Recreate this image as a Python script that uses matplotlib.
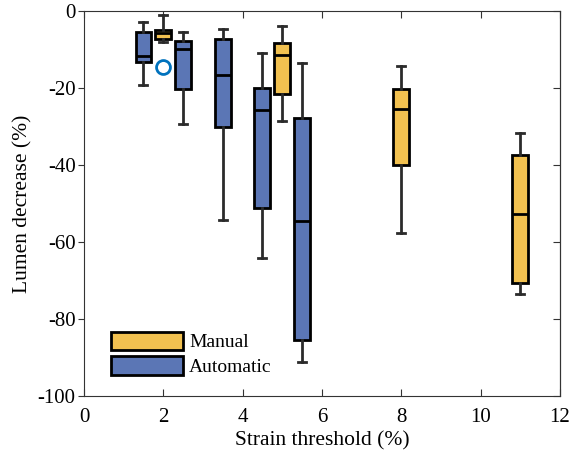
import matplotlib.pyplot as plt
from matplotlib.patches import Patch

plt.rcParams['font.family'] = ['Liberation Serif', 'DejaVu Serif']
plt.rcParams['axes.unicode_minus'] = False

# box positions (strain threshold, %) and group
positions = [1.5, 2.0, 2.5, 3.5, 4.5, 5.0, 5.5, 8.0, 11.0]
groups = ['auto', 'manual', 'auto', 'auto', 'auto', 'manual', 'auto', 'manual', 'manual']

# five-number summaries (lumen decrease, %)
whisker_hi = [-2.8, -1.0, -5.6, -4.6, -11.0, -3.9, -13.6, -14.3, -31.8]
q3 = [-5.4, -4.9, -7.9, -7.4, -20.1, -8.4, -27.9, -20.3, -37.5]
medians = [-11.7, -5.8, -9.8, -16.6, -25.7, -11.5, -54.5, -25.5, -52.8]
q1 = [-13.3, -7.4, -20.3, -30.2, -51.1, -21.6, -85.6, -40.0, -70.6]
whisker_lo = [-19.2, -8.2, -29.4, -54.3, -64.3, -28.5, -91.2, -57.8, -73.5]

outlier_x = [2.0]
outlier_y = [-14.5]

colors = {'manual': '#F2C150', 'auto': '#5B76B5'}
labels = {'manual': 'Manual', 'auto': 'Automatic'}

fig = plt.figure(figsize=(5.79, 4.54), dpi=100)
ax = fig.add_axes([0.145, 0.128, 0.822, 0.848])

for i, pos in enumerate(positions):
    stats = [{
        'whishi': whisker_hi[i], 'q3': q3[i], 'med': medians[i],
        'q1': q1[i], 'whislo': whisker_lo[i], 'fliers': [],
    }]
    ax.bxp(stats, positions=[pos], widths=0.4, patch_artist=True,
           manage_ticks=False, capwidths=0.2,
           boxprops=dict(facecolor=colors[groups[i]], edgecolor='black', linewidth=2),
           medianprops=dict(color='black', linewidth=2),
           whiskerprops=dict(color='#2b2b2b', linewidth=2),
           capprops=dict(color='#2b2b2b', linewidth=2))

ax.plot(outlier_x, outlier_y, 'o', markerfacecolor='none',
        markeredgecolor='#0072BD', markersize=10, markeredgewidth=2)

ax.set_xlim(0, 12)
ax.set_ylim(-100, 0)
ax.set_xticks(range(0, 13, 2))
ax.set_yticks(range(-100, 1, 20))
ax.tick_params(axis='x', direction='in', top=True, labelsize=15, length=5,
               color='#333333', pad=9)
ax.tick_params(axis='y', direction='out', right=False, labelsize=15, length=4,
               color='#333333', pad=2)
# right-side ticks point inward
sec = ax.secondary_yaxis('right')
sec.set_yticks(range(-100, 1, 20))
sec.tick_params(direction='in', length=5, color='#333333', labelright=False)
sec.spines['right'].set_color('#333333')
for s in ax.spines.values():
    s.set_color('#333333')
ax.set_xlabel('Strain threshold (%)', fontsize=15.5, labelpad=3)
ax.set_ylabel('Lumen decrease (%)', fontsize=15.5, labelpad=4)

handles = [Patch(facecolor=colors[g], edgecolor='black', linewidth=2, label=labels[g])
           for g in ['manual', 'auto']]
ax.legend(handles=handles, loc='lower left', frameon=False, fontsize=14,
          handlelength=3.71, handleheight=1.07, handletextpad=0.3,
          labelspacing=0.25, bbox_to_anchor=(0.02, 0.006))

fig.savefig('out.png', dpi=100)
